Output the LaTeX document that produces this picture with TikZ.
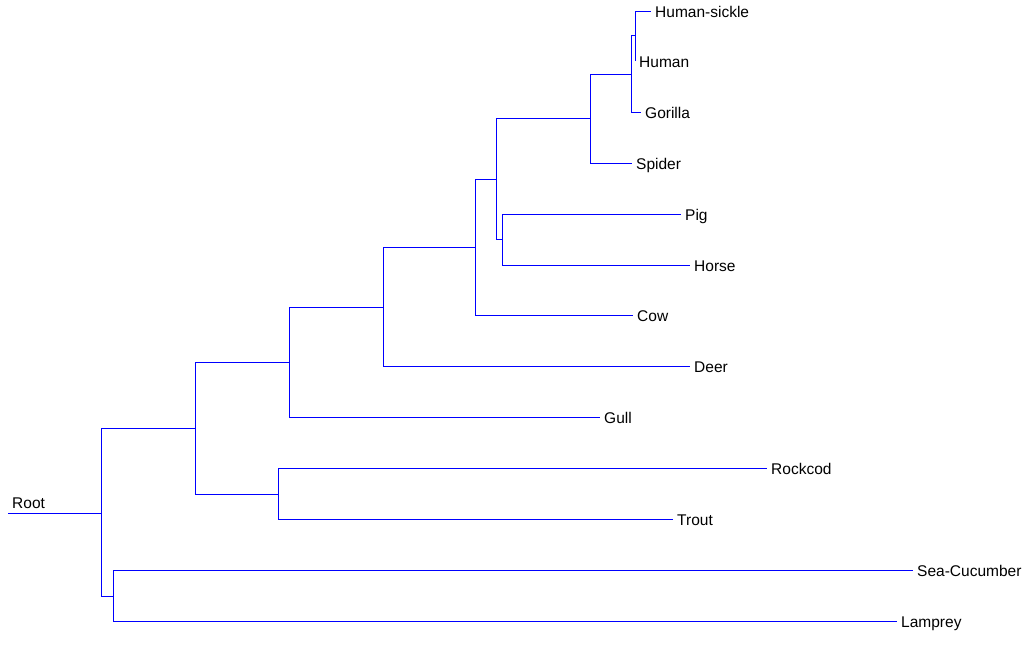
\documentclass[tikz,border=0pt]{standalone}
\usepackage{fontspec}
\setmainfont{Liberation Sans}

\begin{document}
\begin{tikzpicture}[x=1pt,y=-1pt]
\tikzstyle{branch}=[draw=blue,line width=1pt]
\tikzstyle{leaf}=[anchor=west,inner xsep=4pt,inner ysep=0pt,text height=13.6pt,text depth=0pt,font=\fontsize{15.5}{18}\selectfont]
\useasboundingbox (0,0) rectangle (1027,646);
% root and inner branch points
\node[leaf,anchor=south west,inner ysep=4.5pt] (root) at (8,513) {Root};
\coordinate (n0) at (101,513);
\coordinate (n1) at (195,428);
\coordinate (n2) at (113,596);
\coordinate (n3) at (289,362);
\coordinate (n4) at (278,494);
\coordinate (n5) at (383,307);
\coordinate (n6) at (475,247);
\coordinate (n7) at (496,179);
\coordinate (n8) at (590,118);
\coordinate (n9) at (502,239);
\coordinate (n10) at (631,74);
\coordinate (n11) at (635,35);
% leaves
\node[leaf] (hsickle) at (651,11) {Human-sickle};
\node[leaf] (human) at (635,61) {Human};
\node[leaf] (gorilla) at (641,112) {Gorilla};
\node[leaf] (spider) at (632,163) {Spider};
\node[leaf] (pig) at (681,214) {Pig};
\node[leaf] (horse) at (690,265) {Horse};
\node[leaf] (cow) at (633,315) {Cow};
\node[leaf] (deer) at (690,366) {Deer};
\node[leaf] (gull) at (600,417) {Gull};
\node[leaf] (rockcod) at (767,468) {Rockcod};
\node[leaf] (trout) at (673,519) {Trout};
\node[leaf] (seacuc) at (913,570) {Sea-Cucumber};
\node[leaf] (lamprey) at (897,621) {Lamprey};
% branches
\draw[branch] (root.south west) -- (n0);
\foreach \p/\c in {n0/n1,n0/n2,n1/n3,n1/n4,n3/n5,n5/n6,n6/n7,n7/n8,n7/n9,n8/n10,n10/n11}
  \draw[branch] (\p) |- (\c);
\foreach \p/\c in {n11/hsickle,n11/human,n10/gorilla,n8/spider,n9/pig,n9/horse,n6/cow,n5/deer,n3/gull,n4/rockcod,n4/trout,n2/seacuc,n2/lamprey}
  \draw[branch] (\p) |- (\c.west);
\end{tikzpicture}
\end{document}
